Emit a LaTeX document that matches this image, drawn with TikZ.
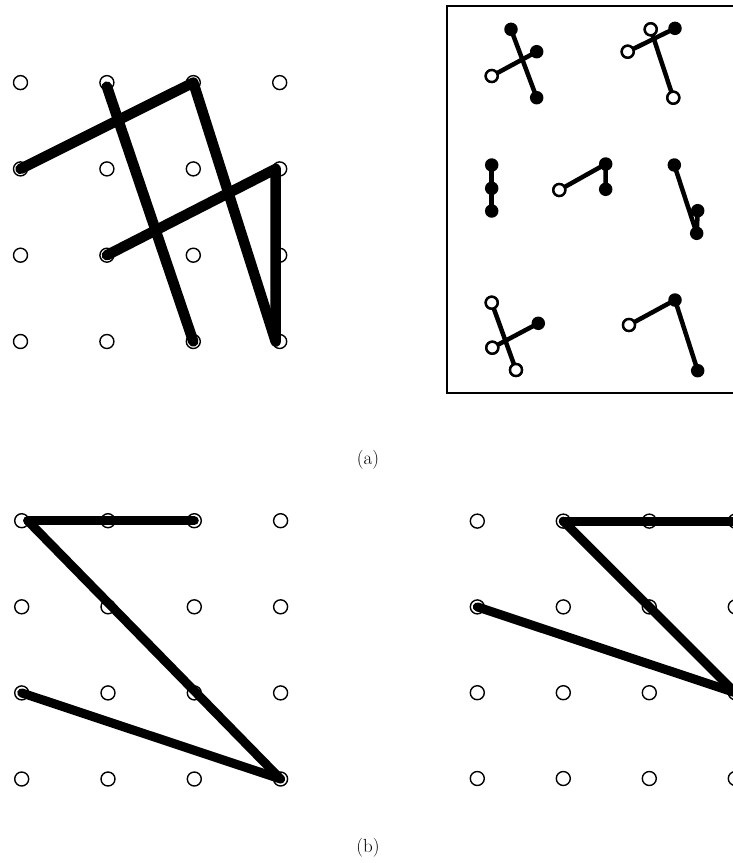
\documentclass[tikz,border=0pt]{standalone}
\usepackage{fontspec}
\begin{document}
\begin{tikzpicture}[x=1pt,y=-1pt,
  peg/.style={circle,draw,line width=1.4pt,minimum size=14pt,inner sep=0pt},
  rodA/.style={line width=10.5pt,line cap=round,line join=round},
  rodB/.style={line width=9pt,line cap=round,line join=round},
  stick/.style={line width=4.5pt,line cap=round},
  fdot/.style={circle,fill=black,minimum size=13.5pt,inner sep=0pt},
  odot/.style={circle,draw,fill=white,line width=2.4pt,minimum size=12pt,inner sep=0pt},
  lab/.style={font=\fontsize{19}{22}\selectfont}]
\useasboundingbox (0,0) rectangle (733,863);
\clip (0,0) rectangle (733,863);
% ---------- (a) left grid ----------
\foreach \i in {0,1,2,3}{
  \foreach \j in {0,1,2,3}{
    \node[peg] (a\i\j) at ({20.5+86.4*\i},{341.5-86.3*\j}) {};
  }
}
\coordinate (a32s) at ([xshift=-4pt]a32.center);
\coordinate (a30s) at ([xshift=-4pt]a30.center);
\coordinate (a13s) at ([yshift=-4pt]a13.center);
\draw[rodA] (a02.center) -- (a23.center) -- (a30s);
\draw[rodA] (a13s) -- (a20.center);
\draw[rodA] (a11.center) -- (a32s) -- (a30s);
% ---------- (a) right box ----------
\draw[line width=2pt] (447.3,5.7) rectangle (745,392.7);
% fig 1
\node[fdot] (p1a) at (511,29.3) {};
\node[fdot] (p1b) at (536.7,51.7) {};
\node[fdot] (p1c) at (536.7,97.7) {};
\node[odot] (p1d) at (491.7,76) {};
\draw[stick] (p1a.center) -- (p1c.center);
\draw[stick] (p1d.center) -- (p1b.center);
\node[odot] at (p1d) {};
% fig 2
\node[odot] (p2e) at (650.7,29.3) {};
\node[fdot] (p2f) at (675,28.3) {};
\node[odot] (p2g) at (627.7,51.7) {};
\node[odot] (p2h) at (673.3,97.7) {};
\draw[stick] (p2g.center) -- (p2f.center);
\draw[stick] (p2e.center) -- (p2h.center);
\node[odot] at (p2e) {};
\node[odot] at (p2g) {};
\node[odot] at (p2h) {};
% fig 3
\node[fdot] (p3a) at (491.7,165) {};
\node[fdot] (p3b) at (491.7,188.3) {};
\node[fdot] (p3c) at (491.7,211) {};
\draw[stick] (p3a.center) -- (p3c.center);
% fig 4
\node[odot] (p4a) at (559.3,190) {};
\node[fdot] (p4b) at (605.7,164) {};
\node[fdot] (p4c) at (605.7,189.3) {};
\draw[stick] (p4a.center) -- (p4b.center) -- (p4c.center);
\node[odot] at (p4a) {};
% fig 5
\node[fdot] (p5a) at (674.3,165) {};
\node[fdot] (p5b) at (697.7,210.7) {};
\node[fdot] (p5c) at (696.7,233.3) {};
\draw[stick] (p5a.center) -- (p5c.center);
\draw[stick] (p5b.center) -- (p5c.center);
% fig 6
\node[odot] (p6a) at (491.7,302.7) {};
\node[odot] (p6b) at (492.3,347.7) {};
\node[odot] (p6c) at (516,370) {};
\node[fdot] (p6d) at (538.3,323.3) {};
\draw[stick] (p6a.center) -- (p6c.center);
\draw[stick] (p6b.center) -- (p6d.center);
\node[odot] at (p6a) {};
\node[odot] at (p6b) {};
\node[odot] at (p6c) {};
% fig 7
\node[odot] (p7a) at (629,325) {};
\node[fdot] (p7b) at (675,300) {};
\node[fdot] (p7c) at (697.7,370.7) {};
\draw[stick] (p7a.center) -- (p7b.center) -- (p7c.center);
\node[odot] at (p7a) {};
% label (a)
\node[lab] (la) at (368,460) {(a)};
% ---------- (b) left grid ----------
\foreach \i in {0,1,2,3}{
  \foreach \j in {0,1,2,3}{
    \node[peg] (b\i\j) at ({21.7+86.3*\i},{779-86.1*\j}) {};
  }
}
\coordinate (b03s) at ([xshift=6pt]b03.center);
\draw[rodB] (b03s) -- (b23.center);
\draw[rodB] (b03s) -- (b30.center);
\draw[rodB] (b01.center) -- (b30.center);
% ---------- (b) right grid ----------
\foreach \i in {0,1,2,3}{
  \foreach \j in {0,1,2,3}{
    \node[peg] (c\i\j) at ({477.3+86*\i},{778.5-85.8*\j}) {};
  }
}
\draw[rodB] (c13.center) -- (c33.center);
\draw[rodB] (c13.center) -- (c31.center);
\draw[rodB] (c02.center) -- (c31.center);
% label (b)
\node[lab] (lb) at (368,848) {(b)};
\end{tikzpicture}
\end{document}
